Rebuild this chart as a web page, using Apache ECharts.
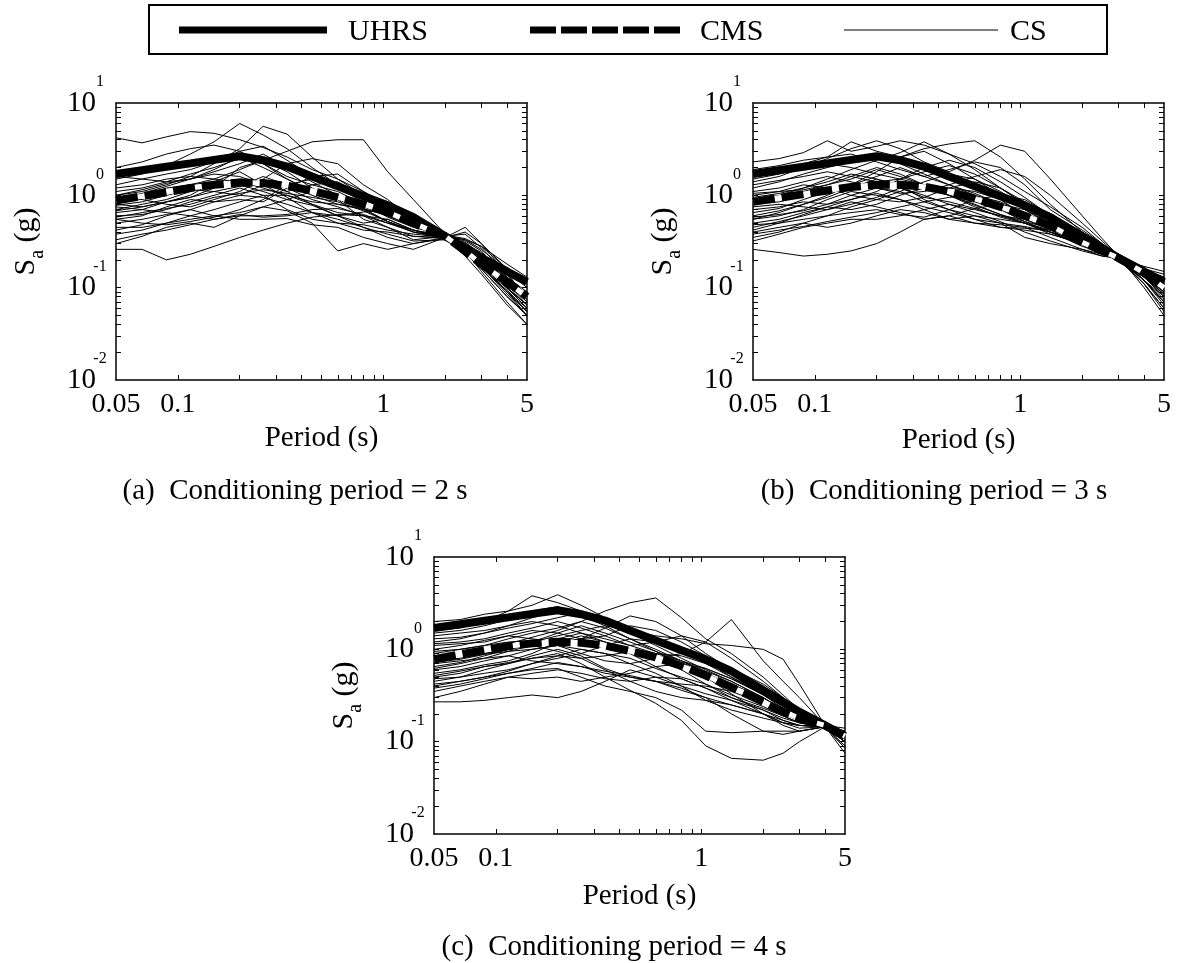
<!DOCTYPE html>
<html lang="en">
<head>
<meta charset="UTF-8">
<title>UHRS, CMS and CS spectra</title>
<script src="https://cdn.jsdelivr.net/npm/echarts@6/dist/echarts.min.js"></script>
<style>html,body{margin:0;padding:0;background:#fff;}</style>
</head>
<body>
<div id="dv" style="width:1177px;height:963px;"></div>
<script>
// periods (s) shared by every spectrum
var PERIODS = [0.05, 0.067, 0.088, 0.115, 0.15, 0.2, 0.26, 0.34, 0.45, 0.6, 0.8, 1.05, 1.4, 2, 2.5, 3, 4, 5];

var UHRS = [1.7, 1.87, 2.04, 2.22, 2.42, 2.65, 2.4, 2.05, 1.6, 1.25, 0.98, 0.78, 0.58, 0.36, 0.27, 0.21, 0.15, 0.115];

var CMS_A = [0.88, 0.98, 1.08, 1.2, 1.3, 1.38, 1.36, 1.27, 1.12, 0.95, 0.8, 0.66, 0.5, 0.36, 0.25, 0.18, 0.115, 0.08];
var CMS_B = [0.85, 0.94, 1.03, 1.13, 1.23, 1.3, 1.3, 1.24, 1.1, 0.92, 0.75, 0.6, 0.47, 0.31, 0.25, 0.21, 0.145, 0.1];
var CMS_C = [0.78, 0.88, 0.98, 1.08, 1.16, 1.21, 1.18, 1.1, 0.96, 0.82, 0.66, 0.52, 0.39, 0.27, 0.21, 0.18, 0.15, 0.115];

var CS_A = [
  [4.2, 3.7, 4.3, 4.9, 4.7, 4.0, 3.3, 2.6, 1.9, 1.5, 1.1, 0.8, 0.55, 0.37, 0.27, 0.19, 0.1, 0.065],
  [1.5, 1.7, 2.1, 2.8, 3.8, 6.0, 4.5, 3.2, 2.0, 1.3, 0.9, 0.7, 0.5, 0.35, 0.25, 0.17, 0.09, 0.055],
  [1.0, 1.1, 1.3, 1.6, 2.2, 3.2, 5.6, 4.6, 2.6, 1.5, 1.0, 0.72, 0.52, 0.36, 0.3, 0.22, 0.12, 0.075],
  [0.9, 1.0, 1.2, 1.3, 1.5, 1.9, 2.4, 3.0, 3.8, 4.0, 4.0, 1.8, 0.9, 0.38, 0.3, 0.22, 0.13, 0.09],
  [0.26, 0.26, 0.2, 0.23, 0.28, 0.35, 0.42, 0.5, 0.58, 0.62, 0.6, 0.5, 0.42, 0.34, 0.24, 0.16, 0.08, 0.05],
  [0.3, 0.36, 0.45, 0.5, 0.45, 0.6, 0.75, 0.68, 0.5, 0.25, 0.3, 0.26, 0.3, 0.35, 0.4, 0.3, 0.14, 0.08],
  [0.45, 0.45, 0.5, 0.55, 0.6, 0.55, 0.55, 0.56, 0.48, 0.45, 0.35, 0.3, 0.26, 0.35, 0.45, 0.3, 0.16, 0.1],
  [0.5, 0.55, 0.62, 0.7, 0.6, 0.65, 0.75, 0.9, 1.1, 0.9, 0.55, 0.45, 0.33, 0.36, 0.32, 0.25, 0.12, 0.07],
  [0.6, 0.62, 0.7, 0.85, 1.0, 1.2, 1.0, 0.7, 0.55, 0.5, 0.48, 0.42, 0.38, 0.35, 0.28, 0.2, 0.1, 0.06],
  [0.7, 0.8, 0.9, 1.1, 1.3, 1.5, 1.4, 1.1, 0.8, 0.65, 0.6, 0.55, 0.42, 0.36, 0.26, 0.17, 0.085, 0.05],
  [0.8, 0.75, 0.85, 0.95, 1.2, 2.0, 2.4, 1.8, 1.2, 0.9, 0.7, 0.62, 0.48, 0.35, 0.29, 0.2, 0.11, 0.07],
  [1.1, 1.2, 1.4, 1.7, 2.0, 2.5, 2.2, 1.6, 1.3, 1.1, 0.8, 0.58, 0.45, 0.37, 0.28, 0.19, 0.09, 0.05],
  [1.3, 1.5, 1.7, 1.9, 2.3, 3.0, 3.4, 2.4, 1.6, 1.2, 0.85, 0.65, 0.5, 0.35, 0.26, 0.2, 0.1, 0.06],
  [2.0, 2.3, 2.8, 3.2, 3.5, 3.0, 2.2, 1.5, 1.1, 0.95, 0.75, 0.6, 0.46, 0.36, 0.3, 0.24, 0.13, 0.085],
  [0.55, 0.6, 0.75, 0.9, 0.85, 0.9, 0.85, 1.2, 1.6, 1.7, 1.1, 0.75, 0.55, 0.36, 0.38, 0.27, 0.14, 0.08],
  [0.38, 0.42, 0.5, 0.6, 0.7, 0.85, 1.0, 1.0, 0.8, 0.6, 0.45, 0.35, 0.3, 0.34, 0.25, 0.15, 0.07, 0.04],
  [0.95, 0.9, 0.8, 0.75, 0.9, 1.1, 1.5, 2.2, 2.5, 2.2, 1.3, 0.9, 0.55, 0.35, 0.24, 0.16, 0.08, 0.05],
  [0.65, 0.7, 0.85, 1.0, 1.4, 1.8, 1.3, 0.95, 0.65, 0.6, 0.66, 0.7, 0.5, 0.37, 0.33, 0.28, 0.18, 0.13],
  [1.6, 1.5, 1.4, 1.5, 1.8, 2.2, 2.8, 2.0, 1.4, 1.0, 0.72, 0.52, 0.42, 0.34, 0.26, 0.18, 0.09, 0.06],
  [0.42, 0.48, 0.6, 0.7, 0.85, 1.0, 1.3, 1.2, 0.9, 0.75, 0.6, 0.45, 0.36, 0.35, 0.31, 0.23, 0.11, 0.065],
  [0.85, 0.95, 1.1, 1.3, 1.4, 1.3, 1.1, 0.9, 0.78, 0.6, 0.5, 0.55, 0.42, 0.36, 0.27, 0.2, 0.12, 0.075],
  [0.75, 0.7, 0.65, 0.6, 0.55, 0.6, 0.6, 0.62, 0.7, 0.72, 0.62, 0.5, 0.4, 0.35, 0.3, 0.21, 0.1, 0.06],
  [0.55, 0.5, 0.48, 0.52, 0.58, 0.7, 0.9, 1.3, 1.5, 1.3, 1.0, 0.75, 0.5, 0.37, 0.34, 0.28, 0.16, 0.11],
  [1.2, 1.3, 1.5, 1.6, 1.5, 1.4, 1.2, 1.0, 0.85, 0.8, 0.7, 0.52, 0.4, 0.34, 0.22, 0.14, 0.065, 0.04],
  [0.68, 0.75, 0.85, 0.95, 1.1, 1.25, 1.6, 1.3, 1.0, 0.8, 0.72, 0.6, 0.46, 0.36, 0.27, 0.19, 0.1, 0.065],
  [0.9, 1.05, 1.25, 1.5, 1.7, 1.6, 1.3, 1.1, 1.3, 1.4, 1.0, 0.7, 0.48, 0.36, 0.33, 0.26, 0.15, 0.1],
  [0.33, 0.38, 0.42, 0.48, 0.55, 0.62, 0.58, 0.6, 0.65, 0.55, 0.45, 0.38, 0.32, 0.33, 0.3, 0.22, 0.12, 0.08],
  [0.78, 0.85, 1.0, 1.15, 1.1, 1.0, 0.95, 0.8, 0.65, 0.5, 0.42, 0.4, 0.36, 0.34, 0.27, 0.2, 0.095, 0.055],
  [1.0, 1.15, 1.35, 1.5, 1.9, 2.6, 2.0, 1.5, 1.1, 0.9, 0.8, 0.68, 0.52, 0.37, 0.29, 0.21, 0.1, 0.065],
  [0.58, 0.65, 0.72, 0.8, 0.95, 1.05, 1.15, 1.05, 0.95, 0.85, 0.68, 0.52, 0.4, 0.35, 0.26, 0.17, 0.09, 0.055]
];

var CS_B = [
  [2.3, 2.5, 2.9, 3.9, 3.0, 3.4, 3.9, 3.5, 2.8, 2.2, 1.6, 1.1, 0.75, 0.45, 0.3, 0.21, 0.12, 0.07],
  [1.9, 2.1, 2.4, 2.6, 3.8, 3.0, 2.6, 3.2, 3.6, 3.9, 2.6, 1.5, 0.8, 0.4, 0.28, 0.2, 0.13, 0.09],
  [1.4, 1.6, 2.0, 2.5, 3.2, 3.9, 3.2, 2.3, 1.8, 2.4, 3.5, 3.0, 1.5, 0.6, 0.34, 0.22, 0.15, 0.11],
  [0.26, 0.24, 0.22, 0.23, 0.25, 0.3, 0.4, 0.55, 0.6, 0.5, 0.45, 0.42, 0.38, 0.3, 0.25, 0.2, 0.13, 0.08],
  [0.4, 0.45, 0.5, 0.45, 0.5, 0.6, 0.7, 0.65, 0.55, 0.6, 0.5, 0.35, 0.3, 0.26, 0.23, 0.2, 0.14, 0.1],
  [0.5, 0.55, 0.65, 0.75, 0.7, 0.8, 1.0, 1.2, 1.0, 0.75, 0.58, 0.5, 0.38, 0.3, 0.24, 0.21, 0.11, 0.06],
  [0.6, 0.68, 0.8, 0.95, 1.2, 1.5, 1.3, 0.9, 0.7, 0.6, 0.55, 0.5, 0.42, 0.35, 0.28, 0.22, 0.12, 0.07],
  [0.7, 0.75, 0.85, 0.8, 0.9, 1.1, 1.5, 2.0, 2.4, 2.0, 1.4, 0.95, 0.6, 0.38, 0.26, 0.2, 0.15, 0.12],
  [0.85, 0.95, 1.1, 1.3, 1.6, 2.0, 1.7, 1.3, 1.0, 0.8, 0.62, 0.5, 0.4, 0.3, 0.26, 0.21, 0.16, 0.13],
  [1.0, 1.1, 1.3, 1.2, 1.0, 0.9, 0.85, 0.95, 1.2, 1.4, 1.2, 0.8, 0.55, 0.36, 0.27, 0.21, 0.11, 0.055],
  [1.2, 1.4, 1.7, 2.0, 2.3, 2.6, 2.2, 1.7, 1.3, 1.0, 0.7, 0.52, 0.4, 0.28, 0.24, 0.2, 0.17, 0.15],
  [0.55, 0.6, 0.7, 0.9, 1.1, 1.0, 0.9, 0.7, 0.55, 0.5, 0.48, 0.45, 0.35, 0.26, 0.22, 0.21, 0.14, 0.09],
  [0.45, 0.52, 0.6, 0.7, 0.85, 0.75, 0.65, 0.55, 0.6, 0.72, 0.8, 0.7, 0.48, 0.33, 0.25, 0.2, 0.13, 0.085],
  [1.5, 1.7, 2.0, 2.2, 2.0, 1.7, 1.5, 1.3, 1.2, 1.1, 0.9, 0.6, 0.45, 0.3, 0.26, 0.22, 0.12, 0.075],
  [0.9, 1.0, 1.2, 1.5, 1.9, 2.4, 2.9, 3.8, 2.8, 1.9, 1.2, 0.85, 0.55, 0.36, 0.28, 0.21, 0.13, 0.09],
  [0.35, 0.4, 0.5, 0.6, 0.75, 0.9, 1.1, 1.4, 1.7, 1.5, 1.1, 0.75, 0.5, 0.3, 0.23, 0.2, 0.14, 0.1],
  [0.75, 0.8, 0.75, 0.7, 0.8, 0.95, 1.2, 1.0, 0.8, 0.65, 0.52, 0.4, 0.32, 0.25, 0.22, 0.21, 0.16, 0.12],
  [1.1, 1.2, 1.4, 1.6, 1.4, 1.2, 1.05, 1.1, 1.3, 1.6, 1.9, 1.6, 1.0, 0.5, 0.32, 0.22, 0.1, 0.05],
  [0.65, 0.72, 0.9, 1.1, 1.3, 1.2, 1.1, 0.85, 0.7, 0.55, 0.45, 0.44, 0.42, 0.33, 0.27, 0.21, 0.15, 0.11],
  [0.48, 0.5, 0.55, 0.6, 0.65, 0.7, 0.62, 0.58, 0.7, 0.9, 1.0, 0.9, 0.62, 0.4, 0.3, 0.21, 0.12, 0.08],
  [0.95, 1.05, 1.2, 1.4, 1.7, 1.5, 1.2, 0.95, 0.85, 0.72, 0.6, 0.55, 0.45, 0.34, 0.26, 0.2, 0.14, 0.095],
  [1.7, 1.9, 2.2, 2.6, 2.8, 2.3, 1.9, 1.6, 1.9, 2.3, 2.0, 1.3, 0.7, 0.42, 0.3, 0.22, 0.13, 0.08],
  [0.55, 0.65, 0.8, 1.0, 1.3, 1.8, 2.6, 3.0, 2.2, 1.5, 1.0, 0.7, 0.5, 0.34, 0.26, 0.21, 0.15, 0.12],
  [1.3, 1.45, 1.6, 1.8, 1.6, 1.4, 1.5, 1.8, 2.1, 1.7, 1.2, 0.8, 0.52, 0.36, 0.27, 0.2, 0.12, 0.07],
  [0.42, 0.5, 0.62, 0.75, 0.9, 1.05, 0.9, 0.75, 0.65, 0.55, 0.5, 0.46, 0.4, 0.32, 0.25, 0.21, 0.13, 0.085],
  [0.8, 0.85, 1.0, 1.1, 1.3, 1.6, 2.0, 1.6, 1.3, 1.05, 0.8, 0.6, 0.46, 0.33, 0.26, 0.21, 0.14, 0.1],
  [0.38, 0.42, 0.46, 0.52, 0.58, 0.65, 0.75, 0.85, 0.95, 1.0, 0.85, 0.65, 0.48, 0.35, 0.27, 0.2, 0.12, 0.065],
  [1.05, 1.1, 1.15, 1.3, 1.5, 1.9, 1.6, 1.3, 1.0, 0.78, 0.62, 0.52, 0.44, 0.3, 0.24, 0.21, 0.15, 0.11],
  [0.58, 0.62, 0.68, 0.8, 1.0, 1.2, 1.4, 1.2, 1.0, 0.85, 0.7, 0.55, 0.42, 0.29, 0.23, 0.21, 0.16, 0.14],
  [0.32, 0.38, 0.45, 0.5, 0.55, 0.55, 0.6, 0.7, 0.8, 0.7, 0.6, 0.5, 0.4, 0.3, 0.24, 0.2, 0.11, 0.06]
];

var CS_C = [
  [2.0, 2.1, 2.4, 2.6, 3.8, 3.2, 2.6, 2.0, 1.6, 1.3, 1.0, 0.75, 0.5, 0.32, 0.24, 0.19, 0.145, 0.11],
  [1.6, 1.7, 2.0, 2.6, 3.0, 3.9, 3.0, 2.2, 1.5, 1.1, 0.8, 0.6, 0.45, 0.3, 0.22, 0.18, 0.145, 0.12],
  [0.27, 0.27, 0.28, 0.3, 0.32, 0.3, 0.35, 0.45, 0.6, 0.5, 0.4, 0.33, 0.28, 0.22, 0.17, 0.15, 0.145, 0.1],
  [0.5, 0.55, 0.65, 0.7, 0.8, 0.9, 0.7, 0.5, 0.36, 0.26, 0.17, 0.09, 0.066, 0.063, 0.075, 0.1, 0.145, 0.085],
  [0.4, 0.45, 0.5, 0.55, 0.6, 0.62, 0.5, 0.4, 0.35, 0.3, 0.22, 0.13, 0.125, 0.13, 0.13, 0.13, 0.145, 0.1],
  [0.6, 0.65, 0.75, 0.85, 1.0, 1.1, 0.9, 0.75, 0.7, 0.8, 0.9, 1.2, 2.1, 0.75, 0.45, 0.3, 0.15, 0.12],
  [0.9, 1.0, 1.1, 1.3, 1.5, 1.7, 2.0, 2.6, 3.2, 3.6, 2.2, 1.3, 0.9, 0.5, 0.32, 0.22, 0.145, 0.13],
  [0.75, 0.8, 0.9, 1.0, 1.2, 1.4, 1.6, 1.8, 1.6, 1.4, 1.3, 1.15, 1.1, 1.0, 0.78, 0.42, 0.15, 0.14],
  [1.2, 1.3, 1.5, 1.8, 2.2, 2.6, 2.3, 1.8, 1.3, 1.0, 0.75, 0.55, 0.4, 0.27, 0.2, 0.17, 0.14, 0.1],
  [0.55, 0.6, 0.68, 0.75, 0.9, 1.2, 1.4, 1.2, 0.9, 0.65, 0.48, 0.38, 0.3, 0.23, 0.19, 0.16, 0.145, 0.12],
  [1.0, 1.1, 1.25, 1.4, 1.3, 1.2, 1.3, 1.7, 2.3, 2.0, 1.4, 0.9, 0.6, 0.38, 0.26, 0.2, 0.145, 0.09],
  [0.7, 0.75, 0.8, 0.85, 0.75, 0.7, 0.65, 0.55, 0.5, 0.45, 0.42, 0.4, 0.35, 0.26, 0.2, 0.17, 0.14, 0.11],
  [0.35, 0.4, 0.45, 0.5, 0.48, 0.5, 0.45, 0.5, 0.55, 0.65, 0.7, 0.62, 0.48, 0.32, 0.23, 0.18, 0.15, 0.12],
  [1.4, 1.5, 1.6, 1.8, 2.0, 1.8, 1.5, 1.2, 1.0, 0.85, 0.7, 0.55, 0.42, 0.3, 0.22, 0.17, 0.14, 0.1],
  [0.85, 0.9, 1.0, 1.15, 1.35, 1.6, 2.0, 1.7, 1.3, 0.95, 0.7, 0.5, 0.33, 0.2, 0.15, 0.13, 0.145, 0.13],
  [0.48, 0.5, 0.55, 0.6, 0.7, 0.8, 0.9, 1.1, 1.3, 1.2, 0.95, 0.75, 0.55, 0.36, 0.25, 0.19, 0.15, 0.11],
  [1.1, 1.15, 1.2, 1.4, 1.6, 1.5, 1.3, 1.4, 1.8, 1.6, 1.2, 0.85, 0.6, 0.4, 0.28, 0.2, 0.145, 0.1],
  [0.62, 0.7, 0.8, 0.95, 1.1, 0.95, 0.8, 0.6, 0.45, 0.35, 0.3, 0.28, 0.25, 0.2, 0.17, 0.15, 0.145, 0.1],
  [0.45, 0.5, 0.6, 0.7, 0.85, 1.0, 0.85, 0.62, 0.5, 0.45, 0.38, 0.3, 0.2, 0.13, 0.12, 0.13, 0.145, 0.075],
  [1.3, 1.35, 1.5, 1.7, 1.9, 2.2, 2.5, 2.2, 1.7, 1.3, 1.0, 0.8, 0.62, 0.42, 0.3, 0.22, 0.15, 0.12],
  [0.95, 1.0, 1.1, 1.2, 1.25, 1.1, 1.0, 0.9, 0.8, 0.62, 0.5, 0.42, 0.32, 0.24, 0.19, 0.16, 0.14, 0.11],
  [0.3, 0.35, 0.42, 0.5, 0.55, 0.6, 0.55, 0.48, 0.45, 0.5, 0.48, 0.38, 0.28, 0.2, 0.16, 0.14, 0.145, 0.13],
  [0.65, 0.72, 0.85, 1.0, 1.2, 1.5, 1.8, 1.5, 1.2, 0.95, 0.75, 0.58, 0.45, 0.3, 0.22, 0.18, 0.145, 0.12],
  [1.5, 1.6, 1.8, 2.1, 2.6, 2.9, 2.4, 1.9, 1.5, 1.2, 0.95, 0.7, 0.5, 0.33, 0.24, 0.19, 0.145, 0.11],
  [0.38, 0.42, 0.48, 0.55, 0.62, 0.72, 0.65, 0.58, 0.52, 0.45, 0.36, 0.3, 0.25, 0.2, 0.16, 0.15, 0.145, 0.13],
  [0.8, 0.85, 0.9, 1.0, 1.1, 1.3, 1.5, 1.3, 1.1, 1.2, 1.4, 1.2, 0.8, 0.45, 0.3, 0.2, 0.145, 0.1],
  [0.52, 0.58, 0.65, 0.72, 0.8, 0.85, 0.8, 0.85, 0.95, 0.85, 0.6, 0.42, 0.3, 0.22, 0.18, 0.16, 0.145, 0.12],
  [1.15, 1.2, 1.3, 1.5, 1.7, 2.0, 1.7, 1.4, 1.1, 0.9, 0.75, 0.62, 0.48, 0.34, 0.25, 0.19, 0.15, 0.125],
  [0.42, 0.45, 0.5, 0.58, 0.7, 0.85, 1.0, 0.9, 0.7, 0.55, 0.4, 0.28, 0.22, 0.18, 0.16, 0.15, 0.145, 0.085],
  [0.72, 0.78, 0.88, 0.95, 1.0, 1.1, 1.2, 1.1, 1.0, 0.9, 0.85, 0.7, 0.55, 0.38, 0.28, 0.2, 0.15, 0.13]
];

var X_LABELS = [0.05, 0.1, 1, 5];
var X_TICKS = [0.1, 0.2, 0.3, 0.4, 0.5, 0.6, 0.7, 0.8, 0.9, 1, 2, 3, 4];
var Y_LABELS = [0.01, 0.1, 1, 10];
var Y_TICKS = [0.02, 0.03, 0.04, 0.05, 0.06, 0.07, 0.08, 0.09, 0.1, 0.2, 0.3, 0.4, 0.5, 0.6, 0.7, 0.8, 0.9, 1, 2, 3, 4, 5, 6, 7, 8, 9];
var LEGEND_NAMES = ['UHRS', 'CMS', 'CS'];
var CAPTIONS = ['(a)  Conditioning period = 2 s', '(b)  Conditioning period = 3 s', '(c)  Conditioning period = 4 s'];

var FONT = 'Liberation Serif';

// layout of the three panels
var panels = [
  {left: 116, top: 103, xGap: 44, cms: CMS_A, cs: CS_A, cap: [295, 491]},
  {left: 753, top: 103, xGap: 46, cms: CMS_B, cs: CS_B, cap: [934, 491]},
  {left: 434, top: 557, xGap: 48, cms: CMS_C, cs: CS_C, cap: [614, 947]}
];

function toPairs(vals) {
  return vals.map(function (v, i) { return [PERIODS[i], v]; });
}

function frameLine() {
  return {show: true, onZero: false, lineStyle: {color: '#000', width: 1.5}};
}
function ticks(values) {
  return {show: true, inside: true, length: 5, customValues: values, lineStyle: {color: '#000', width: 1}};
}

var grids = [], xAxes = [], yAxes = [], series = [], graphics = [];

panels.forEach(function (p, i) {
  grids.push({left: p.left, top: p.top, width: 411, height: 277, containLabel: false});

  xAxes.push({
    type: 'log', logBase: 10, min: 0.05, max: 5, gridIndex: i, position: 'bottom',
    axisLine: frameLine(), axisTick: ticks(X_TICKS), splitLine: {show: false},
    name: 'Period (s)', nameLocation: 'middle', nameGap: p.xGap,
    nameTextStyle: {fontFamily: FONT, fontSize: 29, color: '#000'},
    axisLabel: {
      customValues: X_LABELS, margin: 11, fontFamily: FONT, fontSize: 28, color: '#000',
      formatter: function (v) { return String(+(+v).toPrecision(3)); }
    }
  });
  xAxes.push({
    type: 'log', logBase: 10, min: 0.05, max: 5, gridIndex: i, position: 'top',
    axisLine: frameLine(), axisTick: ticks(X_TICKS), splitLine: {show: false}, axisLabel: {show: false}
  });

  yAxes.push({
    type: 'log', logBase: 10, min: 0.01, max: 10, gridIndex: i, position: 'left',
    axisLine: frameLine(), axisTick: ticks(Y_TICKS), splitLine: {show: false},
    name: '{m|S}{sub|a}{m| (g)}', nameLocation: 'middle', nameGap: 68, nameRotate: 90,
    nameTextStyle: {
      rich: {
        m: {fontFamily: FONT, fontSize: 30, lineHeight: 44, color: '#000'},
        sub: {fontFamily: FONT, fontSize: 20, lineHeight: 24, verticalAlign: 'bottom', color: '#000'}
      }
    },
    axisLabel: {
      customValues: Y_LABELS, margin: 12,
      formatter: function (v) { return '{b|10}{s|' + Math.round(Math.log10(v)) + '}'; },
      rich: {
        b: {fontFamily: FONT, fontSize: 29, lineHeight: 58, color: '#000'},
        s: {fontFamily: FONT, fontSize: 16, verticalAlign: 'top', width: 8, align: 'left', color: '#000'}
      }
    }
  });
  yAxes.push({
    type: 'log', logBase: 10, min: 0.01, max: 10, gridIndex: i, position: 'right',
    axisLine: frameLine(), axisTick: ticks(Y_TICKS), splitLine: {show: false}, axisLabel: {show: false}
  });

  var xi = i * 2, yi = i * 2;
  p.cs.forEach(function (vals) {
    series.push({
      type: 'line', xAxisIndex: xi, yAxisIndex: yi, data: toPairs(vals),
      symbol: 'none', silent: true, lineStyle: {color: '#000', width: 1}
    });
  });
  series.push({
    name: 'UHRS', type: 'line', xAxisIndex: xi, yAxisIndex: yi, data: toPairs(UHRS),
    symbol: 'none', silent: true, lineStyle: {color: '#000', width: 8}
  });
  // white underlay so the gaps of the dashed CMS line stay white
  series.push({
    type: 'line', xAxisIndex: xi, yAxisIndex: yi, data: toPairs(p.cms),
    symbol: 'none', silent: true, lineStyle: {color: '#fff', width: 5}
  });
  series.push({
    name: 'CMS', type: 'line', xAxisIndex: xi, yAxisIndex: yi, data: toPairs(p.cms),
    symbol: 'none', silent: true, lineStyle: {color: '#000', width: 8, type: [22, 7], cap: 'butt'}
  });

  graphics.push({
    type: 'text', x: p.cap[0], y: p.cap[1],
    style: {text: CAPTIONS[i], font: '29px "Liberation Serif"', fill: '#000', textAlign: 'center', textVerticalAlign: 'middle'}
  });
});

// legend box at the top
graphics.push(
  {type: 'rect', shape: {x: 149, y: 5, width: 958, height: 49}, style: {fill: '#fff', stroke: '#000', lineWidth: 2}},
  {type: 'line', shape: {x1: 179, y1: 30, x2: 327, y2: 30}, style: {stroke: '#000', lineWidth: 7}},
  {type: 'line', shape: {x1: 530, y1: 30, x2: 682, y2: 30}, style: {stroke: '#000', lineWidth: 7, lineDash: [26, 5]}},
  {type: 'line', shape: {x1: 844, y1: 30, x2: 998, y2: 30}, style: {stroke: '#000', lineWidth: 1.2}},
  {type: 'text', x: 348, y: 32, style: {text: LEGEND_NAMES[0], font: '30px "Liberation Serif"', fill: '#000', textVerticalAlign: 'middle'}},
  {type: 'text', x: 700, y: 32, style: {text: LEGEND_NAMES[1], font: '30px "Liberation Serif"', fill: '#000', textVerticalAlign: 'middle'}},
  {type: 'text', x: 1010, y: 32, style: {text: LEGEND_NAMES[2], font: '30px "Liberation Serif"', fill: '#000', textVerticalAlign: 'middle'}}
);

var myChart = echarts.init(document.getElementById('dv'));
myChart.setOption({
  backgroundColor: '#fff',
  animation: false,
  textStyle: {fontFamily: FONT, color: '#000'},
  grid: grids,
  xAxis: xAxes,
  yAxis: yAxes,
  series: series,
  graphic: graphics
});
</script>
</body>
</html>
